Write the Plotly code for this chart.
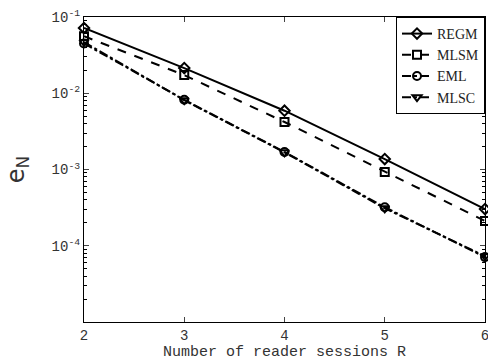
import plotly.graph_objects as go

sessions = [2, 3, 4, 5, 6]
regm = [0.0717, 0.0214, 0.0059, 0.00137, 0.000303]
mlsm = [0.056, 0.0173, 0.0042, 0.00093, 0.000211]
eml = [0.045, 0.0082, 0.0017, 0.00032, 0.000071]
mlsc = [0.047, 0.0081, 0.00168, 0.00031, 0.000073]

ytick_vals = [1e-4, 1e-3, 1e-2, 1e-1]
ytick_text = ["10<sup>-4</sup>", "10<sup>-3</sup>", "10<sup>-2</sup>", "10<sup>-1</sup>"]
minor_vals = [m * 10.0 ** e for e in range(-5, -1) for m in range(2, 10)]

series = [
    ("REGM", regm, "solid", "diamond-open"),
    ("MLSM", mlsm, "dash", "square-open"),
    ("EML", eml, "dashdot", "circle-open"),
    ("MLSC", mlsc, "dashdot", "triangle-down-open"),
]

fig = go.Figure()
for name, vals, dash, sym in series:
    fig.add_trace(go.Scatter(
        x=sessions, y=vals, name=name, mode="lines+markers",
        cliponaxis=False,
        line=dict(color="black", width=2, dash=dash),
        marker=dict(symbol=sym, size=8, color="black", line=dict(width=2, color="black")),
    ))

mono = "Liberation Mono, Courier New, monospace"
fig.update_layout(
    width=488, height=363,
    margin=dict(l=84, r=3, t=17, b=41),
    paper_bgcolor="white", plot_bgcolor="white",
    showlegend=True,
    legend=dict(
        x=1.0, y=1.0, xanchor="right", yanchor="top",
        bgcolor="white", bordercolor="black", borderwidth=1,
        font=dict(family="Liberation Serif, Times New Roman, serif", size=14, color="#222"),
        tracegroupgap=0, itemwidth=30,
    ),
    xaxis=dict(
        range=[2, 6], tickvals=sessions, ticks="inside", ticklen=5,
        ticklabeloverflow="allow", automargin=False,
        showline=True, linecolor="black", linewidth=1, mirror="ticks",
        showgrid=False, zeroline=False,
        tickfont=dict(family=mono, size=14, color="#333"),
        title=dict(text="Number of reader sessions R", standoff=2,
                   font=dict(family=mono, size=15, color="#333")),
    ),
    yaxis=dict(
        type="log", range=[-5, -1], tickvals=ytick_vals, ticktext=ytick_text,
        ticks="inside", ticklen=5, automargin=False,
        minor=dict(tickvals=minor_vals, ticks="inside", ticklen=3, showgrid=False,
                   tickcolor="black"),
        showline=True, linecolor="black", linewidth=1, mirror="ticks",
        showgrid=False, zeroline=False,
        tickfont=dict(family=mono, size=14, color="#333"),
    ),
    annotations=[dict(
        text="e<sub>N</sub>", textangle=-90, showarrow=False,
        xref="paper", yref="paper", x=-0.165, y=0.5,
        xanchor="center", yanchor="middle",
        font=dict(family="DejaVu Sans, sans-serif", size=24, color="#333"),
    )],
)

fig.write_html("out.html", config={"displayModeBar": False},
               post_script="document.body.style.margin='0';document.body.style.overflow='hidden';")
